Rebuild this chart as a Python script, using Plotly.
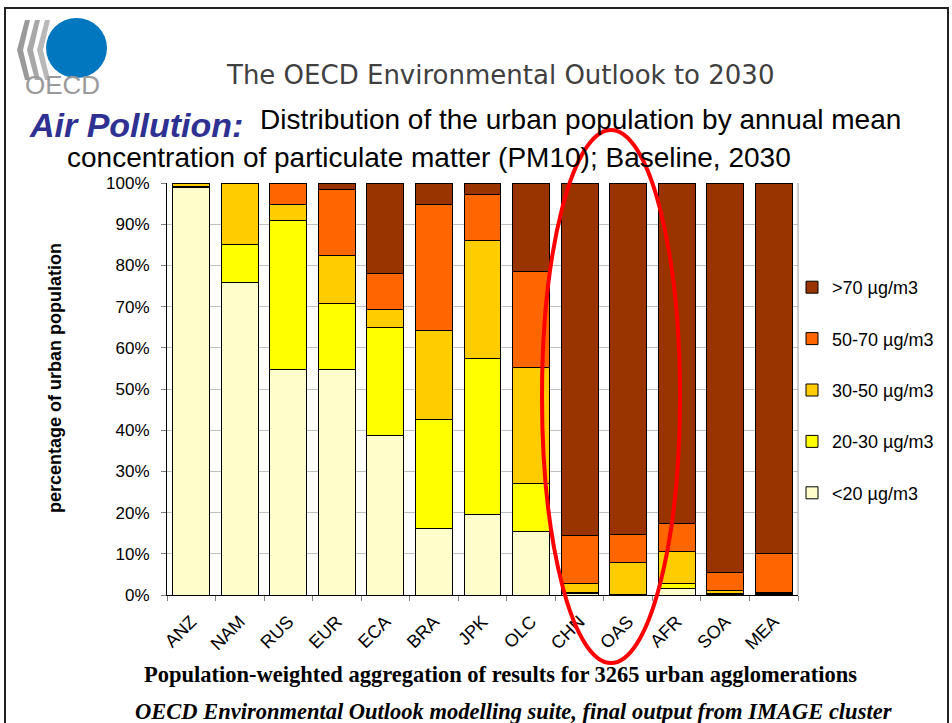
import plotly.graph_objects as go

categories = ["ANZ", "NAM", "RUS", "EUR", "ECA", "BRA", "JPK", "OLC", "CHN", "OAS", "AFR", "SOA", "MEA"]
lt20 = [99.0, 75.8, 54.7, 54.7, 38.6, 16.1, 19.5, 15.5, 0.3, 0.1, 1.7, 0.1, 0.2]
s20_30 = [0.2, 9.2, 36.2, 16.1, 26.3, 26.6, 37.8, 11.5, 0.4, 0.1, 1.1, 0.3, 0.1]
s30_50 = [0.8, 15.0, 3.9, 11.6, 4.3, 21.5, 28.8, 28.2, 2.0, 7.7, 7.7, 0.7, 0.3]
s50_70 = [0.0, 0.0, 5.2, 16.1, 8.9, 30.5, 11.1, 23.4, 11.8, 6.9, 6.9, 4.3, 9.4]
gt70 = [0.0, 0.0, 0.0, 1.5, 21.9, 5.3, 2.8, 21.4, 85.5, 85.2, 82.6, 94.6, 90.0]

series_names = ["<20 µg/m3", "20-30 µg/m3", "30-50 µg/m3", "50-70 µg/m3", ">70 µg/m3"]
series_values = [lt20, s20_30, s30_50, s50_70, gt70]
series_colors = ["#FFFFCC", "#FFFF00", "#FFCC00", "#FF6600", "#993300"]
y_ticks = [0, 10, 20, 30, 40, 50, 60, 70, 80, 90, 100]
y_tick_labels = ["0%", "10%", "20%", "30%", "40%", "50%", "60%", "70%", "80%", "90%", "100%"]

W, H = 952, 723
L, R, T, B = 167, 154, 183, 128
PW, PH = W - L - R, H - T - B


def px(x):
    return (x - L) / PW


def py(y):
    return (H - B - y) / PH


fig = go.Figure()
n = len(series_names)
for i, (name, vals, col) in enumerate(zip(series_names, series_values, series_colors)):
    fig.add_trace(go.Bar(
        x=categories, y=vals, name=name, legendgroup=name, legendrank=n - i,
        marker=dict(color=col, line=dict(color="black", width=1)),
    ))

base_font = "Liberation Sans, Arial, sans-serif"

fig.update_layout(
    width=W, height=H,
    margin=dict(l=L, r=R, t=T, b=B, pad=0),
    barmode="stack", bargap=0.24,
    paper_bgcolor="white", plot_bgcolor="white",
    font=dict(family=base_font, color="black", size=17),
    showlegend=True,
    legend=dict(
        x=px(792), y=py(390), xanchor="left", yanchor="middle",
        traceorder="grouped", tracegroupgap=25,
        font=dict(family=base_font, size=18, color="black"),
        bgcolor="rgba(0,0,0,0)",
    ),
    xaxis=dict(
        tickangle=-45, ticks="outside", tickson="boundaries", ticklen=5,
        tickcolor="#808080", showline=True, linecolor="black", linewidth=1,
        tickfont=dict(family=base_font, size=18, color="black"),
        showgrid=False, ticklabelstandoff=8,
    ),
    yaxis=dict(
        range=[0, 100], tickvals=y_ticks, ticktext=y_tick_labels,
        ticks="outside", ticklen=5, tickcolor="#808080",
        showline=True, linecolor="black", linewidth=1,
        gridcolor="#C0C0C0", gridwidth=1,
        tickfont=dict(family=base_font, size=17, color="black"),
        ticklabelstandoff=8,
    ),
)

shapes = []
# slide frame
shapes.append(dict(type="rect", xref="paper", yref="paper",
                   x0=px(5), x1=px(948), y0=py(8), y1=py(760),
                   line=dict(color="#222222", width=2), layer="below"))
# right plot border
shapes.append(dict(type="line", xref="paper", yref="paper",
                   x0=1, x1=1, y0=0, y1=1,
                   line=dict(color="#A0A0A0", width=1)))
# OECD logo circle
shapes.append(dict(type="circle", xref="paper", yref="paper",
                   x0=px(46), x1=px(107), y0=py(18), y1=py(78),
                   fillcolor="#0077BE", line=dict(width=0)))
# OECD chevrons
for i, gx in enumerate([17, 27, 37]):
    pts = [(gx + 8, 20), (gx, 50), (gx + 8, 80), (gx + 13, 80), (gx + 6, 50), (gx + 13, 20)]
    path = "M " + " L ".join(f"{px(a)},{py(b)}" for a, b in pts) + " Z"
    shapes.append(dict(type="path", xref="paper", yref="paper", path=path,
                       fillcolor=["#9A9A9A", "#A8A8A8", "#B8B8B8"][i], line=dict(width=0)))
# red ellipse
shapes.append(dict(type="circle", xref="paper", yref="paper",
                   x0=px(542), x1=px(680), y0=py(130), y1=py(663),
                   line=dict(color="#FF0000", width=4), layer="above"))
fig.update_layout(shapes=shapes)

ann = []
ann.append(dict(text="OECD", xref="paper", yref="paper", x=px(62), y=py(101),
                xanchor="center", yanchor="bottom", showarrow=False, borderpad=0,
                font=dict(family="Liberation Sans, Arial", size=26, color="#9A9A9A")))
ann.append(dict(text="The OECD Environmental Outlook to 2030", xref="paper", yref="paper",
                x=px(500), y=py(75), xanchor="center", yanchor="middle", showarrow=False,
                font=dict(family="DejaVu Sans, Verdana", size=26, color="#404040")))
ann.append(dict(text="<b><i>Air Pollution:</i></b>", xref="paper", yref="paper",
                x=px(28), y=py(125), xanchor="left", yanchor="middle", showarrow=False,
                borderpad=0, font=dict(family=base_font, size=34, color="#2E3192")))
ann.append(dict(text="Distribution of the urban population by annual mean", xref="paper", yref="paper",
                x=px(258), y=py(119), xanchor="left", yanchor="middle", showarrow=False,
                font=dict(family=base_font, size=28, color="black")))
ann.append(dict(text="concentration of particulate matter (PM10); Baseline, 2030", xref="paper", yref="paper",
                x=px(65), y=py(158), xanchor="left", yanchor="middle", showarrow=False,
                font=dict(family=base_font, size=28, color="black")))
ann.append(dict(text="<b>percentage of urban population</b>", xref="paper", yref="paper",
                x=px(55), y=py(378), xanchor="center", yanchor="middle", showarrow=False,
                textangle=-90, font=dict(family=base_font, size=18, color="black")))
ann.append(dict(text="<b>Population-weighted aggregation of results for 3265 urban agglomerations</b>",
                xref="paper", yref="paper", x=px(500), y=py(674), xanchor="center", yanchor="middle",
                showarrow=False, font=dict(family="Liberation Serif, Georgia, serif", size=22.5, color="black")))
ann.append(dict(text="<b><i>OECD Environmental Outlook modelling suite, final output from IMAGE cluster</i></b>",
                xref="paper", yref="paper", x=px(133), y=py(711), xanchor="left", yanchor="middle",
                showarrow=False, font=dict(family="Liberation Serif, Georgia, serif", size=22.5, color="black")))
fig.update_layout(annotations=ann)

fig.write_html("out.html")
